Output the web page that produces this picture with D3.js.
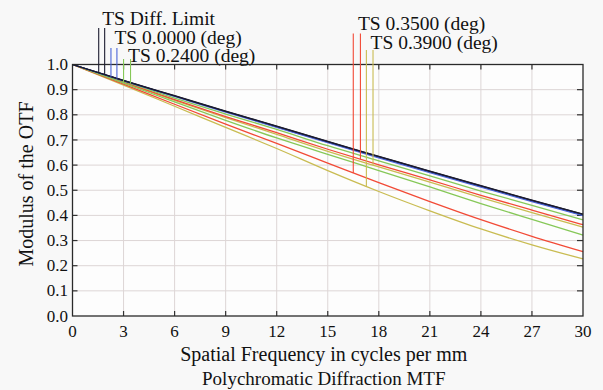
<!DOCTYPE html>
<html>
<head>
<meta charset="utf-8">
<script src="https://cdn.jsdelivr.net/npm/d3@7"></script>
<style>
  html, body { margin: 0; padding: 0; background: #f8f8f8; }
  svg { display: block; }
  .grid line { stroke: #ddd6d6; stroke-width: 1; }
  .tick-mark { stroke: #333; stroke-width: 1.2; }
  .curve { fill: none; stroke-width: 1.3; }
  .marker { stroke-width: 1.1; }
</style>
</head>
<body>
<div id="chart"></div>
<script>
// spatial frequency samples (cycles per mm)
const freqs = [0, 3, 6, 9, 12, 15, 18, 21, 24, 27, 30];

// MTF values, tangential / sagittal per field
const diffT = [1, 0.937, 0.876, 0.815, 0.755, 0.694, 0.635, 0.576, 0.518, 0.461, 0.405];
const diffS = [1, 0.936, 0.875, 0.814, 0.754, 0.693, 0.634, 0.575, 0.517, 0.460, 0.404];
const f0T   = [1, 0.935, 0.873, 0.811, 0.750, 0.689, 0.629, 0.570, 0.512, 0.455, 0.399];
const f0S   = [1, 0.936, 0.874, 0.813, 0.752, 0.691, 0.632, 0.573, 0.515, 0.458, 0.401];
const f24T  = [1, 0.926, 0.851, 0.778, 0.708, 0.643, 0.578, 0.513, 0.447, 0.384, 0.322];
const f24S  = [1, 0.933, 0.866, 0.803, 0.742, 0.677, 0.617, 0.557, 0.497, 0.440, 0.382];
const f35T  = [1, 0.922, 0.842, 0.763, 0.686, 0.608, 0.530, 0.455, 0.383, 0.317, 0.256];
const f35S  = [1, 0.930, 0.860, 0.793, 0.729, 0.663, 0.601, 0.541, 0.480, 0.421, 0.363];
const f39T  = [1, 0.918, 0.834, 0.750, 0.666, 0.578, 0.495, 0.418, 0.346, 0.283, 0.227];
const f39S  = [1, 0.929, 0.857, 0.789, 0.722, 0.655, 0.593, 0.532, 0.471, 0.411, 0.353];

const seriesNames = ['TS Diff. Limit', 'TS 0.0000 (deg)', 'TS 0.2400 (deg)', 'TS 0.3500 (deg)', 'TS 0.3900 (deg)'];
const seriesColors = ['#1c1c30', '#4a64d8', '#86c858', '#f24a36', '#c9bc52'];
const seriesValues = [[diffT, diffS], [f0T, f0S], [f24T, f24S], [f35T, f35S], [f39T, f39S]];
// frequency where each legend stub drops onto its curve (T, S)
const markerFreqs = [[1.54, 1.89], [2.26, 2.61], [3.0, 3.41], [16.5, 16.92], [17.27, 17.66]];

const xTicks = d3.range(0, 31, 3);
const yTicks = d3.range(0, 1.01, 0.1);

const W = 603, H = 390;
const margin = { top: 64.5, right: 20, bottom: 74, left: 72.5 };
const FONT = '"Liberation Serif", "Times New Roman", serif';

const svg = d3.select('#chart').append('svg')
  .attr('width', W)
  .attr('height', H);

const x = d3.scaleLinear().domain([0, 30]).range([margin.left, W - margin.right]);
const y = d3.scaleLinear().domain([0, 1]).range([H - margin.bottom, margin.top]);

function label(sel, size) {
  return sel.style('font-family', FONT).attr('font-size', size).attr('fill', '#111');
}

// plot background
svg.append('rect')
  .attr('x', x(0)).attr('y', y(1))
  .attr('width', x(30) - x(0)).attr('height', y(0) - y(1))
  .attr('fill', '#fdfdfd');

// grid
const grid = svg.append('g').attr('class', 'grid');
grid.selectAll('.gx').data(xTicks.slice(1, -1)).enter().append('line')
  .attr('x1', d => x(d)).attr('x2', d => x(d))
  .attr('y1', y(0)).attr('y2', y(1));
grid.selectAll('.gy').data(yTicks.slice(1, -1)).enter().append('line')
  .attr('x1', x(0)).attr('x2', x(30))
  .attr('y1', d => y(d)).attr('y2', d => y(d));

// inner ticks on all four sides
const tk = svg.append('g');
xTicks.slice(1, -1).forEach(function (d) {
  tk.append('line').attr('class', 'tick-mark')
    .attr('x1', x(d)).attr('x2', x(d)).attr('y1', y(0)).attr('y2', y(0) - 5);
  tk.append('line').attr('class', 'tick-mark')
    .attr('x1', x(d)).attr('x2', x(d)).attr('y1', y(1)).attr('y2', y(1) + 5);
});
yTicks.slice(1, -1).forEach(function (d) {
  tk.append('line').attr('class', 'tick-mark')
    .attr('x1', x(0)).attr('x2', x(0) + 5).attr('y1', y(d)).attr('y2', y(d));
  tk.append('line').attr('class', 'tick-mark')
    .attr('x1', x(30)).attr('x2', x(30) - 6).attr('y1', y(d)).attr('y2', y(d));
});

// curves
const line = d3.line()
  .x((d, i) => x(freqs[i]))
  .y(d => y(d))
  .curve(d3.curveMonotoneX);

const order = [4, 3, 2, 1, 0];
order.forEach(function (s) {
  seriesValues[s].forEach(function (vals) {
    svg.append('path')
      .attr('class', 'curve')
      .attr('stroke', seriesColors[s])
      .attr('d', line(vals));
  });
});

// frame on top
svg.append('rect')
  .attr('x', x(0)).attr('y', y(1))
  .attr('width', x(30) - x(0)).attr('height', y(0) - y(1))
  .attr('fill', 'none').attr('stroke', '#2a2a2a').attr('stroke-width', 1.3);

// legend stubs + labels (label baselines in px)
const labelBase = [25, 43.5, 62, 30, 48.5];
const stubTop = [28, 48, 59, 33.5, 50];

function valueAt(vals, f) {
  const i = Math.min(Math.floor(f / 3), freqs.length - 2);
  const t = (f - freqs[i]) / (freqs[i + 1] - freqs[i]);
  return vals[i] + (vals[i + 1] - vals[i]) * t;
}

seriesNames.forEach(function (name, s) {
  markerFreqs[s].forEach(function (f, k) {
    svg.append('line')
      .attr('class', 'marker')
      .attr('stroke', seriesColors[s])
      .attr('x1', x(f)).attr('x2', x(f))
      .attr('y1', stubTop[s])
      .attr('y2', y(valueAt(seriesValues[s][k], f)));
  });
  label(svg.append('text'), 19.5)
    .attr('x', x(markerFreqs[s][1]) - 2.5)
    .attr('y', labelBase[s])
    .text(name);
});

// tick labels
label(svg.selectAll('.xl').data(xTicks).enter().append('text'), 17)
  .attr('x', d => x(d))
  .attr('y', 337)
  .attr('text-anchor', 'middle')
  .text(d => d);

label(svg.selectAll('.yl').data(yTicks).enter().append('text'), 17)
  .attr('x', 68)
  .attr('y', d => y(d))
  .attr('dy', '0.33em')
  .attr('text-anchor', 'end')
  .text(d => d.toFixed(1));

// titles
label(svg.append('text'), 20)
  .attr('x', (x(0) + x(30)) / 2 - 4)
  .attr('y', 361)
  .attr('text-anchor', 'middle')
  .text('Spatial Frequency in cycles per mm');

label(svg.append('text'), 19)
  .attr('x', (x(0) + x(30)) / 2 - 4)
  .attr('y', 385)
  .attr('text-anchor', 'middle')
  .text('Polychromatic Diffraction MTF');

label(svg.append('text'), 20)
  .attr('transform', 'translate(33,' + 184 + ') rotate(-90)')
  .attr('text-anchor', 'middle')
  .text('Modulus of the OTF');
</script>
</body>
</html>
